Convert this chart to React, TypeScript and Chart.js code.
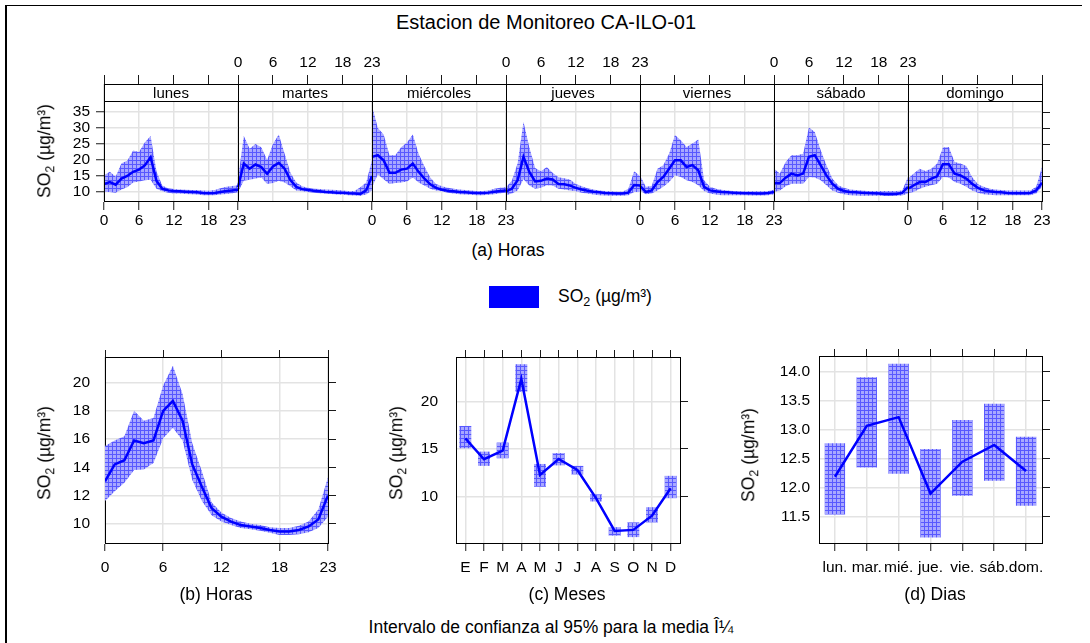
import React, { useEffect, useRef } from 'react';
import { Chart, registerables } from 'chart.js';

Chart.register(...registerables);

const FONT = '"Liberation Sans", Arial, Helvetica, sans-serif';
const BLUE = '#0000ff';
const GRID = '#e3e3e3';
const TICKC = '#1a1a1a';
const TICK_FONT = { family: FONT, size: 15.5 };

// ---------------- data ----------------
const DAY_NAMES = ['lunes', 'martes', 'miércoles', 'jueves', 'viernes', 'sábado', 'domingo'];
const HOURS = [0, 1, 2, 3, 4, 5, 6, 7, 8, 9, 10, 11, 12, 13, 14, 15, 16, 17, 18, 19, 20, 21, 22, 23];
const HOUR_TICKS = [0, 6, 12, 18, 23];

const lunesMean = [12.5, 13.1, 12.3, 14.2, 15.0, 16.3, 17.0, 18.3, 20.9, 13.5, 11.0, 10.5, 10.3, 10.2, 10.1, 10.0, 9.9, 9.7, 9.6, 9.7, 10.0, 10.3, 10.5, 10.7];
const lunesUpper = [15.2, 16.3, 14.8, 19.0, 19.8, 23.0, 22.5, 25.5, 27.5, 16.5, 12.0, 11.2, 10.9, 10.8, 10.7, 10.6, 10.6, 10.5, 10.4, 10.6, 11.2, 11.6, 11.9, 12.1];
const lunesLower = [10.0, 10.0, 9.8, 10.8, 11.5, 13.0, 13.3, 13.7, 13.8, 11.0, 10.2, 9.8, 9.5, 9.5, 9.4, 9.3, 9.2, 9.0, 9.0, 9.0, 9.2, 9.4, 9.6, 9.9];

const martesMean = [11.5, 18.9, 17.3, 18.6, 17.8, 15.7, 18.0, 19.1, 17.3, 13.7, 11.6, 10.9, 10.6, 10.4, 10.2, 10.0, 9.9, 9.8, 9.8, 9.6, 9.5, 9.4, 10.5, 15.0];
const martesUpper = [14.0, 27.5, 23.5, 25.0, 24.0, 20.0, 25.0, 28.0, 22.0, 16.0, 13.0, 11.8, 11.3, 11.0, 10.9, 10.8, 10.7, 10.6, 10.5, 10.3, 10.3, 11.5, 13.0, 20.0];
const martesLower = [10.0, 13.5, 13.8, 14.2, 14.5, 12.5, 12.8, 13.5, 13.0, 11.8, 10.5, 10.2, 10.0, 9.8, 9.6, 9.5, 9.4, 9.2, 9.1, 9.0, 8.9, 8.8, 9.2, 10.5];

const miercolesMean = [21.0, 21.5, 19.9, 16.0, 16.0, 17.0, 17.3, 18.9, 16.3, 14.2, 12.4, 11.3, 10.7, 10.4, 10.2, 10.0, 9.9, 9.8, 9.7, 9.7, 9.8, 10.1, 10.3, 10.5];
const miercolesUpper = [37.0, 30.0, 28.0, 21.5, 21.5, 24.0, 25.5, 28.0, 22.0, 18.0, 14.5, 12.5, 11.8, 11.3, 11.0, 10.8, 10.6, 10.5, 10.3, 10.3, 10.5, 11.0, 11.3, 11.5];
const miercolesLower = [11.5, 15.5, 14.0, 12.5, 12.8, 13.0, 13.3, 14.5, 13.0, 12.0, 11.0, 10.5, 10.2, 9.8, 9.5, 9.3, 9.2, 9.1, 9.0, 9.0, 9.1, 9.3, 9.6, 9.8];

const juevesMean = [10.2, 11.0, 13.7, 21.0, 16.3, 13.3, 13.5, 14.2, 13.9, 12.5, 12.4, 12.0, 11.3, 10.8, 10.4, 10.1, 9.9, 9.7, 9.6, 9.5, 9.5, 9.8, 12.2, 12.0];
const juevesUpper = [11.5, 13.5, 19.0, 32.0, 24.0, 17.5, 16.5, 17.8, 16.0, 14.6, 14.3, 13.8, 12.5, 11.8, 11.2, 10.8, 10.5, 10.3, 10.2, 10.1, 10.1, 11.0, 16.5, 15.0];
const juevesLower = [9.0, 9.5, 10.5, 14.0, 12.0, 11.0, 11.3, 12.1, 12.0, 11.0, 10.8, 10.5, 10.2, 9.8, 9.5, 9.2, 9.0, 8.9, 8.8, 8.8, 8.8, 9.0, 10.0, 10.0];

const viernesMean = [11.9, 10.0, 10.5, 13.1, 14.7, 17.3, 19.9, 19.9, 17.8, 18.4, 16.8, 11.6, 10.5, 10.2, 10.0, 9.9, 9.8, 9.7, 9.6, 9.6, 9.5, 9.5, 9.7, 10.0];
const viernesUpper = [15.2, 11.6, 11.9, 17.3, 18.4, 22.0, 27.8, 26.2, 24.1, 25.2, 26.4, 13.7, 11.6, 11.0, 10.7, 10.5, 10.3, 10.2, 10.2, 10.2, 10.2, 10.2, 10.3, 10.7];
const viernesLower = [10.5, 9.3, 9.5, 10.5, 11.6, 13.1, 15.2, 14.7, 13.7, 13.1, 12.1, 10.3, 9.5, 9.2, 9.0, 9.0, 9.0, 9.0, 9.0, 8.9, 8.9, 8.9, 9.0, 9.3];

const sabadoMean = [12.8, 12.8, 14.5, 15.75, 15.2, 15.75, 21.0, 21.5, 18.4, 15.2, 12.6, 11.0, 10.3, 10.0, 9.9, 9.8, 9.7, 9.6, 9.5, 9.3, 9.3, 9.4, 9.7, 11.6];
const sabadoUpper = [17.3, 15.75, 19.4, 21.5, 21.5, 22.0, 30.2, 28.8, 23.1, 18.4, 14.2, 12.1, 11.3, 10.8, 10.6, 10.5, 10.3, 10.3, 10.3, 10.3, 10.3, 10.3, 10.5, 14.7];
const sabadoLower = [10.0, 10.5, 11.8, 12.6, 12.6, 12.6, 14.7, 14.5, 13.7, 12.1, 10.5, 9.8, 9.3, 9.0, 8.9, 8.85, 8.85, 8.8, 8.8, 8.8, 8.8, 8.85, 8.9, 9.5];

const domingoMean = [11.0, 12.1, 13.1, 13.1, 14.2, 14.9, 18.7, 18.7, 15.75, 15.2, 14.2, 12.6, 11.3, 10.5, 10.2, 10.0, 9.9, 9.7, 9.6, 9.6, 9.6, 9.7, 10.5, 12.9];
const domingoUpper = [14.2, 15.75, 17.3, 16.6, 17.3, 18.9, 23.9, 24.1, 19.4, 18.9, 18.1, 14.7, 12.4, 11.6, 11.0, 10.8, 10.6, 10.5, 10.5, 10.5, 10.5, 10.5, 11.6, 17.8];
const domingoLower = [9.7, 10.0, 11.0, 11.6, 12.1, 12.6, 14.7, 14.5, 13.1, 12.6, 11.6, 10.5, 9.8, 9.3, 9.1, 9.0, 9.0, 9.0, 9.0, 9.0, 9.0, 9.0, 9.5, 11.6];

const hourMean = [13.0, 14.2, 14.5, 15.9, 15.7, 15.9, 18.0, 18.7, 17.3, 14.2, 12.6, 11.1, 10.5, 10.15, 9.9, 9.8, 9.7, 9.55, 9.45, 9.45, 9.55, 9.8, 10.3, 12.0];
const hourUpper = [15.5, 15.9, 16.2, 18.0, 17.3, 17.5, 19.8, 21.2, 19.2, 15.7, 13.7, 11.5, 10.8, 10.4, 10.15, 10.0, 9.9, 9.75, 9.7, 9.7, 9.85, 10.15, 11.0, 13.3];
const hourLower = [11.6, 12.3, 12.9, 13.8, 13.85, 14.3, 16.05, 16.8, 15.9, 13.1, 11.6, 10.6, 10.15, 9.9, 9.7, 9.6, 9.5, 9.35, 9.2, 9.2, 9.25, 9.4, 9.7, 10.5];

const MONTH_LABELS = ['E', 'F', 'M', 'A', 'M', 'J', 'J', 'A', 'S', 'O', 'N', 'D'];
const monthMean = [16.1, 13.9, 14.8, 22.35, 12.25, 13.93, 12.77, 9.8, 6.35, 6.46, 7.96, 10.84];
const monthUpper = [17.4, 14.7, 15.65, 23.9, 13.4, 14.55, 13.2, 10.2, 6.75, 7.25, 8.85, 12.15];
const monthLower = [15.05, 13.2, 14.0, 21.0, 11.0, 13.25, 12.3, 9.45, 5.85, 5.7, 7.25, 9.8];

const WEEKDAY_LABELS = ['lun.', 'mar.', 'mié.', 'jue.', 'vie.', 'sáb.', 'dom.'];
const dayMean = [12.19, 13.07, 13.22, 11.9, 12.45, 12.74, 12.29];
const dayUpper = [12.77, 13.91, 14.14, 12.67, 13.17, 13.45, 12.88];
const dayLower = [11.54, 12.35, 12.24, 11.14, 11.86, 12.12, 11.69];

const TOP_Y_TICKS = [10, 15, 20, 25, 30, 35];
const B_Y_TICKS = [10, 12, 14, 16, 18, 20];
const C_Y_TICKS = [10, 15, 20];
const D_Y_TICKS = [11.5, 12.0, 12.5, 13.0, 13.5, 14.0];

const WEEK_SERIES = [
  { mean: lunesMean, upper: lunesUpper, lower: lunesLower },
  { mean: martesMean, upper: martesUpper, lower: martesLower },
  { mean: miercolesMean, upper: miercolesUpper, lower: miercolesLower },
  { mean: juevesMean, upper: juevesUpper, lower: juevesLower },
  { mean: viernesMean, upper: viernesUpper, lower: viernesLower },
  { mean: sabadoMean, upper: sabadoUpper, lower: sabadoLower },
  { mean: domingoMean, upper: domingoUpper, lower: domingoLower },
];

// ---------------- helpers ----------------
const SPAN = 23; // hours per facet on the shared x axis
const TOP_X_TICKS: number[] = [];
DAY_NAMES.forEach((_, d) => HOUR_TICKS.forEach((h) => {
  const v = d * SPAN + h;
  if (!TOP_X_TICKS.includes(v)) TOP_X_TICKS.push(v);
}));

function splitTick(v: number) {
  const d = Math.floor(v / SPAN);
  return { d, h: v - d * SPAN };
}
function bottomLabel(v: number) {
  const { d, h } = splitTick(v);
  if (h === 0) {
    if (d % 2 === 0 && d < 7) return '0';
    if ((d - 1) % 2 === 0) return '23';
    return '';
  }
  return d % 2 === 0 ? String(h) : '';
}
function topLabel(v: number) {
  const { d, h } = splitTick(v);
  if (h === 0) {
    if (d % 2 === 1 && d < 7) return '0';
    if (d - 1 >= 0 && (d - 1) % 2 === 1) return '23';
    return '';
  }
  return d % 2 === 1 ? String(h) : '';
}
function showBottomTick(v: number) {
  const { d, h } = splitTick(v);
  if (h === 0) return true;
  return d % 2 === 0 || h === 12;
}

function makePattern(): CanvasPattern | string {
  const c = document.createElement('canvas');
  c.width = 4;
  c.height = 4;
  const g = c.getContext('2d');
  if (!g) return 'rgba(110,110,255,0.8)';
  g.fillStyle = 'rgb(168,168,255)';
  g.fillRect(0, 0, 4, 4);
  g.fillStyle = 'rgb(88,88,255)';
  g.fillRect(0, 0, 4, 1);
  g.fillRect(0, 0, 1, 4);
  return g.createPattern(c, 'repeat') || 'rgba(110,110,255,0.8)';
}

const sized = (px: number) => (s: any) => {
  if (s.isHorizontal()) s.height = px;
  else s.width = px;
  s.paddingLeft = 0;
  s.paddingRight = 0;
  s.paddingTop = 0;
  s.paddingBottom = 0;
};
const fixedTicks = (vals: number[]) => (s: any) => {
  s.ticks = vals.map((v) => ({ value: v }));
};
const alignPx = (p: number) => Math.round(p - 0.5) + 0.5;

const common = {
  responsive: false,
  animation: false,
  devicePixelRatio: 1,
  events: [],
  layout: { padding: 0 },
  plugins: { legend: { display: false }, tooltip: { enabled: false }, title: { display: false } },
};
const BORDER = { display: true, color: '#000', width: 1 };

// ---------------- chart configs ----------------
const STRIP_H = 17;
const stripPlugin = {
  id: 'dayStrips',
  afterDatasetsDraw(chart: any) {
    const { ctx, chartArea } = chart;
    const xs = chart.scales.x;
    const top = chartArea.top;
    const sb = top + STRIP_H;
    ctx.save();
    ctx.font = `15px ${FONT}`;
    ctx.textAlign = 'center';
    ctx.textBaseline = 'middle';
    DAY_NAMES.forEach((name, d) => {
      const x0 = xs.getPixelForValue(d * SPAN);
      const x1 = xs.getPixelForValue(d * SPAN + SPAN);
      ctx.fillStyle = '#fff';
      ctx.fillRect(x0, top, x1 - x0, STRIP_H);
      ctx.fillStyle = '#000';
      ctx.fillText(name, (x0 + x1) / 2, top + STRIP_H / 2 + 1);
    });
    ctx.strokeStyle = '#000';
    ctx.lineWidth = 1;
    ctx.beginPath();
    ctx.moveTo(chartArea.left, alignPx(top));
    ctx.lineTo(chartArea.right, alignPx(top));
    ctx.moveTo(chartArea.left, alignPx(sb));
    ctx.lineTo(chartArea.right, alignPx(sb));
    for (let d = 0; d <= DAY_NAMES.length; d++) {
      const x = alignPx(xs.getPixelForValue(d * SPAN));
      ctx.moveTo(x, top);
      ctx.lineTo(x, chartArea.bottom);
    }
    ctx.stroke();
    ctx.restore();
  },
};

function topConfig(pattern: any) {
  const datasets: any[] = [];
  WEEK_SERIES.forEach((s, d) => {
    const pts = (arr: number[]) => HOURS.map((h, i) => ({ x: d * SPAN + h, y: arr[i] }));
    datasets.push({ label: DAY_NAMES[d] + ' lower', data: pts(s.lower), borderWidth: 0, borderColor: 'rgba(0,0,0,0)', pointRadius: 0, fill: false, order: 1 });
    datasets.push({ label: DAY_NAMES[d] + ' upper', data: pts(s.upper), borderWidth: 0, borderColor: 'rgba(0,0,0,0)', pointRadius: 0, fill: datasets.length - 1, backgroundColor: pattern, order: 1 });
    datasets.push({ label: DAY_NAMES[d], data: pts(s.mean), borderWidth: 2.5, borderColor: BLUE, pointRadius: 0, fill: false, order: 0 });
  });
  return {
    type: 'line',
    data: { datasets },
    plugins: [stripPlugin],
    options: {
      ...common,
      scales: {
        x: {
          type: 'linear', position: 'bottom', min: 0, max: SPAN * 7,
          afterBuildTicks: fixedTicks(TOP_X_TICKS), afterFit: sized(39),
          ticks: { autoSkip: false, maxRotation: 0, minRotation: 0, font: TICK_FONT, color: '#000', padding: 1, callback: (v: any) => bottomLabel(Number(v)) },
          grid: { color: GRID, lineWidth: 1.5, tickLength: 9, tickWidth: 1, tickColor: (c: any) => (c.tick && showBottomTick(c.tick.value) ? TICKC : 'rgba(0,0,0,0)') },
          border: BORDER,
        },
        x2: {
          type: 'linear', position: 'top', min: 0, max: SPAN * 7,
          afterBuildTicks: fixedTicks(TOP_X_TICKS), afterFit: sized(44),
          ticks: { autoSkip: false, maxRotation: 0, minRotation: 0, font: TICK_FONT, color: '#000', padding: 3, callback: (v: any) => topLabel(Number(v)) },
          grid: { drawOnChartArea: false, tickLength: 9, tickWidth: 1, tickColor: TICKC },
          border: BORDER,
        },
        y: {
          type: 'linear', position: 'left', min: 7.18, max: 43.79,
          afterBuildTicks: fixedTicks(TOP_Y_TICKS), afterFit: sized(104),
          ticks: { font: TICK_FONT, color: '#000', padding: 6 },
          grid: { color: GRID, lineWidth: 1.5, tickLength: 8, tickWidth: 1, tickColor: TICKC },
          border: BORDER,
        },
        y2: {
          type: 'linear', position: 'right', min: 7.18, max: 43.79,
          afterBuildTicks: fixedTicks(TOP_Y_TICKS), afterFit: sized(48),
          ticks: { display: false },
          grid: { drawOnChartArea: false, tickLength: 8, tickWidth: 1, tickColor: TICKC },
          border: BORDER,
        },
      },
    },
  };
}

function hourConfig(pattern: any) {
  const pts = (arr: number[]) => HOURS.map((h, i) => ({ x: h, y: arr[i] }));
  return {
    type: 'line',
    data: {
      datasets: [
        { label: 'lower', data: pts(hourLower), borderWidth: 0, borderColor: 'rgba(0,0,0,0)', pointRadius: 0, fill: false, order: 1 },
        { label: 'upper', data: pts(hourUpper), borderWidth: 0, borderColor: 'rgba(0,0,0,0)', pointRadius: 0, fill: 0, backgroundColor: pattern, order: 1 },
        { label: 'mean', data: pts(hourMean), borderWidth: 2.5, borderColor: BLUE, pointRadius: 0, fill: false, order: 0 },
      ],
    },
    options: {
      ...common,
      scales: {
        x: {
          type: 'linear', position: 'bottom', min: 0, max: 23,
          afterBuildTicks: fixedTicks(HOUR_TICKS), afterFit: sized(57),
          ticks: { autoSkip: false, maxRotation: 0, font: TICK_FONT, color: '#000', padding: 7 },
          grid: { color: GRID, lineWidth: 1.5, tickLength: 8, tickWidth: 1, tickColor: TICKC },
          border: BORDER,
        },
        x2: {
          type: 'linear', position: 'top', min: 0, max: 23,
          afterBuildTicks: fixedTicks(HOUR_TICKS), afterFit: sized(27),
          ticks: { display: false },
          grid: { drawOnChartArea: false, tickLength: 7, tickWidth: 1, tickColor: TICKC },
          border: BORDER,
        },
        y: {
          type: 'linear', position: 'left', min: 8.63, max: 21.82,
          afterBuildTicks: fixedTicks(B_Y_TICKS), afterFit: sized(105),
          ticks: { font: TICK_FONT, color: '#000', padding: 15 },
          grid: { color: GRID, lineWidth: 1.5, drawTicks: false },
          border: BORDER,
        },
        y2: {
          type: 'linear', position: 'right', min: 8.63, max: 21.82,
          afterBuildTicks: fixedTicks(B_Y_TICKS), afterFit: sized(32),
          ticks: { display: false },
          grid: { drawOnChartArea: false, tickLength: 8, tickWidth: 1, tickColor: TICKC },
          border: BORDER,
        },
      },
    },
  };
}

function boxConfig(pattern: any, labels: string[], mean: number[], lower: number[], upper: number[],
  yMin: number, yMax: number, yTicks: number[], dims: { l: number; r: number; t: number; b: number; pad: number }, fmt?: (v: number) => string) {
  return {
    type: 'bar',
    data: {
      labels,
      datasets: [
        { type: 'line', label: 'mean', data: mean, borderColor: BLUE, borderWidth: 2.5, pointRadius: 0, fill: false, order: 0 },
        { type: 'bar', label: 'ci', data: lower.map((l, i) => [l, upper[i]]), backgroundColor: pattern, borderWidth: 0, barPercentage: 0.64, categoryPercentage: 1, order: 1 },
      ],
    },
    options: {
      ...common,
      scales: {
        x: {
          type: 'category', position: 'bottom', offset: true, afterFit: sized(dims.b),
          ticks: { autoSkip: false, maxRotation: 0, font: TICK_FONT, color: '#000', padding: 7 },
          grid: { offset: false, color: GRID, lineWidth: 1.5, tickLength: 8, tickWidth: 1, tickColor: TICKC },
          border: BORDER,
        },
        x2: {
          type: 'category', position: 'top', offset: true, afterFit: sized(dims.t),
          ticks: { display: false },
          grid: { offset: false, drawOnChartArea: false, tickLength: 7, tickWidth: 1, tickColor: TICKC },
          border: BORDER,
        },
        y: {
          type: 'linear', position: 'left', min: yMin, max: yMax,
          afterBuildTicks: fixedTicks(yTicks), afterFit: sized(dims.l),
          ticks: { font: TICK_FONT, color: '#000', padding: dims.pad, callback: (v: any) => (fmt ? fmt(Number(v)) : String(v)) },
          grid: { color: GRID, lineWidth: 1.5, drawTicks: false },
          border: BORDER,
        },
        y2: {
          type: 'linear', position: 'right', min: yMin, max: yMax,
          afterBuildTicks: fixedTicks(yTicks), afterFit: sized(dims.r),
          ticks: { display: false },
          grid: { drawOnChartArea: false, tickLength: 8, tickWidth: 1, tickColor: TICKC },
          border: BORDER,
        },
      },
    },
  };
}

// ---------------- components ----------------
type Box = { left: number; top: number; width: number; height: number };

function ChartCanvas({ box, build }: { box: Box; build: (pattern: any) => any }) {
  const ref = useRef<HTMLCanvasElement | null>(null);
  useEffect(() => {
    if (!ref.current) return;
    const chart = new Chart(ref.current, build(makePattern()) as any);
    return () => chart.destroy();
  }, []);
  return (
    <canvas
      ref={ref}
      width={box.width}
      height={box.height}
      style={{ position: 'absolute', left: box.left, top: box.top, width: box.width, height: box.height }}
    />
  );
}

function Txt({ x, y, size, rotate, children }: { x: number; y: number; size: number; rotate?: boolean; children: any }) {
  return (
    <div
      style={{
        position: 'absolute', left: x, top: y, fontSize: size, lineHeight: 1, whiteSpace: 'nowrap', color: '#000',
        transform: `translate(-50%, -50%)${rotate ? ' rotate(-90deg)' : ''}`,
      }}
    >
      {children}
    </div>
  );
}

const SO2 = () => (
  <>
    SO<span style={{ fontSize: '0.72em', position: 'relative', top: '0.32em' }}>2</span> (µg/m³)
  </>
);

export default function App() {
  return (
    <div style={{ position: 'absolute', left: 0, top: 0, width: 1090, height: 643, background: '#fff', overflow: 'hidden', fontFamily: FONT }}>
      <div style={{ position: 'absolute', left: 5, top: 5, width: 1077, height: 1, background: '#000' }} />
      <div style={{ position: 'absolute', left: 5, top: 5, width: 2, height: 640, background: '#000' }} />

      <Txt x={546} y={22} size={20}>Estacion de Monitoreo CA-ILO-01</Txt>

      <ChartCanvas box={{ left: 0, top: 40, width: 1090, height: 200 }} build={topConfig} />
      <Txt x={45} y={151} size={17.5} rotate><SO2 /></Txt>
      <Txt x={508} y={251} size={17.5}>(a) Horas</Txt>

      <div style={{ position: 'absolute', left: 489, top: 286, width: 50, height: 22, background: BLUE }} />
      <div style={{ position: 'absolute', left: 558, top: 297, fontSize: 17.5, lineHeight: 1, whiteSpace: 'nowrap', transform: 'translateY(-50%)' }}>
        <SO2 />
      </div>

      <ChartCanvas box={{ left: 0, top: 330, width: 360, height: 270 }} build={hourConfig} />
      <Txt x={45} y={453} size={17.5} rotate><SO2 /></Txt>
      <Txt x={216} y={595} size={17.5}>(b) Horas</Txt>

      <ChartCanvas
        box={{ left: 360, top: 330, width: 360, height: 270 }}
        build={(p) => boxConfig(p, MONTH_LABELS, monthMean, monthLower, monthUpper, 5.08, 24.66, C_Y_TICKS, { l: 96, r: 40, t: 27, b: 57, pad: 18 })}
      />
      <Txt x={397} y={453} size={17.5} rotate><SO2 /></Txt>
      <Txt x={567} y={595} size={17.5}>(c) Meses</Txt>

      <ChartCanvas
        box={{ left: 720, top: 330, width: 370, height: 270 }}
        build={(p) => boxConfig(p, WEEKDAY_LABELS, dayMean, dayLower, dayUpper, 11.046, 14.276, D_Y_TICKS, { l: 99, r: 48, t: 26, b: 57, pad: 9 }, (v) => v.toFixed(1))}
      />
      <Txt x={749} y={455} size={17.5} rotate><SO2 /></Txt>
      <Txt x={935} y={595} size={17.5}>(d) Dias</Txt>

      <Txt x={551} y={628} size={17.5}>Intervalo de confianza al 95% para la media Î¼</Txt>
    </div>
  );
}
